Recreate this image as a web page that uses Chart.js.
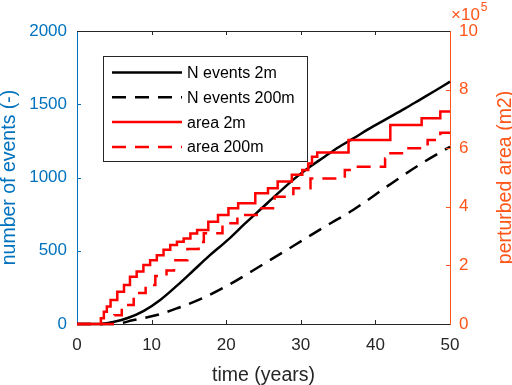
<!DOCTYPE html>
<html>
<head>
<meta charset="utf-8">
<script src="https://cdn.jsdelivr.net/npm/chart.js@4.4.1/dist/chart.umd.min.js"></script>
<style>
  html, body { margin: 0; padding: 0; background: #fff; }
  #wrap { width: 512px; height: 385px; }
</style>
</head>
<body>
<div id="wrap"><canvas id="grafico"></canvas></div>
<script>
// time (years) for each curve
const tEvents2m = [0, 3.1, 5, 6.7, 8.9, 11.2, 13.4, 15.6, 17.5, 20.3, 22.5, 24.8, 27, 29.2, 31, 33.2, 35, 37, 39, 41.5, 44, 46, 48, 50];
const nEvents2m = [0, 0, 16, 39, 88, 166, 262, 365, 455, 578, 685, 792, 895, 994, 1065, 1142, 1205, 1265, 1328, 1400, 1472, 1532, 1592, 1654];

const tEvents200m = [0, 4.9, 7.6, 10.7, 13.4, 16.8, 20.3, 24.8, 29.2, 33.2, 37, 41.5, 46, 50];
const nEvents200m = [0, 0, 27, 61, 107, 175, 266, 403, 539, 664, 778, 937, 1090, 1210];

// perturbed area, in units of 10^5 m2 (stepped)
const tArea2m = [0, 2.8, 3.2, 3.6, 4.0, 4.5, 5.4, 6.3, 7.1, 8.0, 8.9, 9.8, 10.7, 11.6, 12.5, 13.4, 14.3, 15.2, 16.1, 17.6, 18.9, 20.3, 21.6, 23.9, 25.6, 26.9, 28.8, 30.2, 31.0, 31.5, 32.2, 36.4, 42.0, 46.2, 48.7, 50];
const area2m = [0, 0, 0.2, 0.42, 0.6, 0.82, 1.10, 1.33, 1.61, 1.79, 2.01, 2.18, 2.35, 2.53, 2.70, 2.81, 2.92, 3.09, 3.21, 3.49, 3.72, 3.95, 4.12, 4.46, 4.63, 4.86, 5.09, 5.26, 5.48, 5.71, 5.85, 6.28, 6.79, 7.02, 7.25, 7.25];

const tArea200m = [0, 4.5, 5, 6, 7.6, 9.2, 10.5, 12, 13, 14.8, 16.3, 17, 19.5, 21.5, 24.5, 26.5, 29, 31.3, 35.9, 37, 41.3, 41.8, 44, 47, 48.7, 50];
const area200m = [0, 0, 0.3, 0.65, 1.06, 1.33, 1.64, 1.83, 2.18, 2.56, 2.8, 3.1, 3.44, 3.72, 3.95, 4.34, 4.63, 4.97, 5.26, 5.37, 5.65, 5.83, 6.0, 6.28, 6.53, 6.53];

const xTicks = [0, 10, 20, 30, 40, 50];
const eventTicks = [0, 500, 1000, 1500, 2000];
const areaTicks = [0, 2, 4, 6, 8, 10];

const AZUL = "rgb(0, 114, 189)";
const NARANJA = "rgb(255, 85, 25)";
const GRIS = "#262626";
const FUENTE = "'Liberation Sans', Arial, Helvetica, sans-serif";

function puntos(ts, vs) {
    return ts.map((t, i) => ({ x: t, y: vs[i] }));
}

// inward ticks, top border, legend, exponent and right label
const marco = {
    id: "marco",
    afterDatasetsDraw(chart) {
        const { ctx, chartArea: a, scales } = chart;
        const largo = 4;
        ctx.save();
        ctx.lineWidth = 1;

        ctx.strokeStyle = GRIS;
        ctx.beginPath();
        ctx.moveTo(a.left, a.top + 0.5);
        ctx.lineTo(a.right, a.top + 0.5);
        ctx.stroke();

        ctx.beginPath();
        xTicks.slice(1, -1).forEach(v => {
            const px = Math.round(scales.x.getPixelForValue(v)) + 0.5;
            ctx.moveTo(px, a.bottom); ctx.lineTo(px, a.bottom - largo);
            ctx.moveTo(px, a.top); ctx.lineTo(px, a.top + largo);
        });
        ctx.stroke();

        ctx.strokeStyle = AZUL;
        ctx.beginPath();
        eventTicks.slice(1, -1).forEach(v => {
            const py = Math.round(scales.y.getPixelForValue(v)) + 0.5;
            ctx.moveTo(a.left, py); ctx.lineTo(a.left + largo, py);
        });
        ctx.stroke();

        ctx.strokeStyle = NARANJA;
        ctx.beginPath();
        areaTicks.slice(1, -1).forEach(v => {
            const py = Math.round(scales.y1.getPixelForValue(v)) + 0.5;
            ctx.moveTo(a.right, py); ctx.lineTo(a.right - largo, py);
        });
        ctx.stroke();

        // legend box
        const lx = a.left + 26, ly = a.top + 25, lw = 204, lh = 105;
        ctx.fillStyle = "#fff";
        ctx.fillRect(lx, ly, lw, lh);
        ctx.strokeStyle = GRIS;
        ctx.lineWidth = 1;
        ctx.strokeRect(lx + 0.5, ly + 0.5, lw, lh);
        ctx.font = "16px " + FUENTE;
        ctx.textBaseline = "middle";
        ctx.textAlign = "left";
        chart.data.datasets.forEach((ds, i) => {
            const y = ly + 16.5 + i * 24.8;
            ctx.strokeStyle = ds.borderColor;
            ctx.lineWidth = ds.borderWidth;
            ctx.setLineDash(ds.borderDash || []);
            ctx.beginPath();
            ctx.moveTo(lx + 9, y);
            ctx.lineTo(lx + 79, y);
            ctx.stroke();
            ctx.setLineDash([]);
            ctx.fillStyle = "#000";
            ctx.fillText(ds.label, lx + 84, y + 1);
        });

        // x10^5 multiplier
        ctx.fillStyle = NARANJA;
        ctx.textBaseline = "alphabetic";
        ctx.font = "17px " + FUENTE;
        const base = "\u00d710";
        ctx.fillText(base, a.right + 1, 20);
        const w = ctx.measureText(base).width;
        ctx.font = "12px " + FUENTE;
        ctx.fillText("5", a.right + 2 + w, 11);

        // right axis title, reading bottom to top
        ctx.font = "19.5px " + FUENTE;
        ctx.textAlign = "center";
        ctx.textBaseline = "middle";
        ctx.translate(scales.y1.right - 6, (a.top + a.bottom) / 2);
        ctx.rotate(-Math.PI / 2);
        ctx.fillText("perturbed area (m2)", 0, 0);
        ctx.restore();
    }
};

function crearGrafico() {
    new Chart(document.getElementById("grafico"), {
        type: "line",
        data: {
            datasets: [
                {
                    label: "N events 2m",
                    data: puntos(tEvents2m, nEvents2m),
                    yAxisID: "y",
                    borderColor: "#000",
                    borderWidth: 2.5,
                    cubicInterpolationMode: "monotone",
                    order: 2
                },
                {
                    label: "N events 200m",
                    data: puntos(tEvents200m, nEvents200m),
                    yAxisID: "y",
                    borderColor: "#000",
                    borderWidth: 2.5,
                    borderDash: [14, 9],
                    cubicInterpolationMode: "monotone",
                    order: 2
                },
                {
                    label: "area 2m",
                    data: puntos(tArea2m, area2m),
                    yAxisID: "y1",
                    borderColor: "#ff0000",
                    borderWidth: 2.5,
                    stepped: true,
                    order: 1
                },
                {
                    label: "area 200m",
                    data: puntos(tArea200m, area200m),
                    yAxisID: "y1",
                    borderColor: "#ff0000",
                    borderWidth: 2.5,
                    borderDash: [14, 9],
                    stepped: true,
                    order: 1
                }
            ]
        },
        options: {
            responsive: true,
            maintainAspectRatio: false,
            animation: false,
            layout: { padding: { top: 31, left: 0, right: 0, bottom: 0 } },
            elements: {
                point: { radius: 0 },
                line: { tension: 0, borderCapStyle: "butt" }
            },
            datasets: { line: { clip: 3 } },
            plugins: {
                legend: { display: false },
                tooltip: { enabled: false }
            },
            scales: {
                x: {
                    type: "linear",
                    min: 0, max: 50,
                    afterBuildTicks: s => { s.ticks = xTicks.map(v => ({ value: v })); },
                    afterFit: s => { s.height = 61; },
                    grid: { display: false, drawTicks: false },
                    border: { display: true, color: GRIS, width: 1 },
                    ticks: { color: GRIS, padding: 11, font: { size: 17, family: FUENTE }, callback: v => String(v) },
                    title: {
                        display: true, text: "time (years)", color: GRIS,
                        font: { size: 19.5, family: FUENTE, lineHeight: 1 },
                        padding: { top: 0, bottom: 0 }
                    }
                },
                y: {
                    position: "left",
                    min: 0, max: 2000,
                    afterBuildTicks: s => { s.ticks = eventTicks.map(v => ({ value: v })); },
                    afterFit: s => { s.width = 77; },
                    grid: { display: false, drawTicks: false },
                    border: { display: true, color: AZUL, width: 1 },
                    ticks: { color: AZUL, padding: 10, font: { size: 17, family: FUENTE }, callback: v => String(v) },
                    title: {
                        display: true, text: "number of events (-)", color: AZUL,
                        font: { size: 19.5, family: FUENTE, lineHeight: 1 },
                        padding: { top: 0, bottom: 0 }
                    }
                },
                y1: {
                    position: "right",
                    min: 0, max: 10,
                    afterBuildTicks: s => { s.ticks = areaTicks.map(v => ({ value: v })); },
                    afterFit: s => { s.width = 62; },
                    grid: { display: false, drawTicks: false },
                    border: { display: true, color: NARANJA, width: 1 },
                    ticks: { color: NARANJA, padding: 9, font: { size: 17, family: FUENTE }, callback: v => String(v) }
                }
            }
        },
        plugins: [marco]
    });
}

document.addEventListener("DOMContentLoaded", crearGrafico);
</script>
</body>
</html>
